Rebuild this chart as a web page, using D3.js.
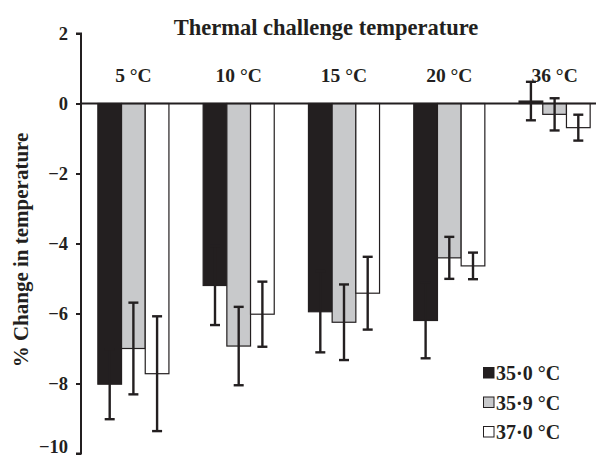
<!DOCTYPE html>
<html>
<head>
<meta charset="utf-8">
<script src="https://cdn.jsdelivr.net/npm/d3@7"></script>
<style>
  body { margin: 0; background: #fff; }
  text { font-family: "Liberation Serif", "DejaVu Serif", serif; font-weight: bold; fill: #231f20; }
</style>
</head>
<body>
<div id="chart"></div>
<script>
// data
var categories = ['5 °C', '10 °C', '15 °C', '20 °C', '36 °C'];
var seriesNames = ['35·0 °C', '35·9 °C', '37·0 °C'];
var seriesColors = ['#231f20', '#c8c9cb', '#ffffff'];
var means35_0 = [-8.02, -5.2, -5.95, -6.2, 0.07];
var means35_9 = [-7.0, -6.93, -6.25, -4.41, -0.31];
var means37_0 = [-7.72, -6.02, -5.42, -4.64, -0.69];
var err35_0 = [1.0, 1.13, 1.16, 1.08, 0.55];
var err35_9 = [1.31, 1.12, 1.08, 0.6, 0.46];
var err37_0 = [1.64, 0.93, 1.04, 0.38, 0.37];
var yTicks = [2, 0, -2, -4, -6, -8, -10];

var means = [means35_0, means35_9, means37_0];
var errs = [err35_0, err35_9, err37_0];

var W = 596, H = 458;
var svg = d3.select('#chart').append('svg')
    .attr('width', W).attr('height', H);

// scales
var y = d3.scaleLinear().domain([-10, 2]).range([453.5, 33.5]);
var x0 = d3.scaleBand().domain(categories).range([81, 607])
    .paddingInner(0.325).paddingOuter(0.16);
var x1 = d3.scaleBand().domain(d3.range(3)).range([0, x0.bandwidth()]);

// title
svg.append('text')
    .attr('x', 326).attr('y', 35)
    .attr('text-anchor', 'middle')
    .style('font-size', '22.5px')
    .text('Thermal challenge temperature');

// group labels
svg.selectAll('text.cat')
    .data(categories).enter().append('text')
    .attr('class', 'cat')
    .attr('x', function(d) { return x0(d) + x0.bandwidth() / 2; })
    .attr('y', 82)
    .attr('text-anchor', 'middle')
    .style('font-size', '19.5px')
    .text(function(d) { return d; });

// bars
var rows = [];
categories.forEach(function(c, i) {
  for (var s = 0; s < 3; s++) {
    rows.push({cat: c, s: s, v: means[s][i], e: errs[s][i]});
  }
});

svg.selectAll('rect.bar')
    .data(rows).enter().append('rect')
    .attr('class', 'bar')
    .attr('x', function(d) { return x0(d.cat) + x1(d.s); })
    .attr('width', x1.bandwidth())
    .attr('y', function(d) { return y(Math.max(0, d.v)); })
    .attr('height', function(d) { return Math.abs(y(d.v) - y(0)); })
    .attr('fill', function(d) { return seriesColors[d.s]; })
    .attr('stroke', '#231f20')
    .attr('stroke-width', 1.2);

// zero line
svg.append('line')
    .attr('x1', 81).attr('x2', W)
    .attr('y1', y(0)).attr('y2', y(0))
    .attr('stroke', '#231f20').attr('stroke-width', 2);

// error bars
var eb = svg.selectAll('g.err')
    .data(rows).enter().append('g')
    .attr('class', 'err')
    .attr('stroke', '#231f20')
    .attr('stroke-width', 2.4);

function cx(d) { return x0(d.cat) + x1(d.s) + x1.bandwidth() / 2; }

eb.append('line')
    .attr('x1', cx).attr('x2', cx)
    .attr('y1', function(d) { return y(d.v + d.e); })
    .attr('y2', function(d) { return y(d.v - d.e); });
eb.append('line')
    .attr('x1', function(d) { return cx(d) - 5; })
    .attr('x2', function(d) { return cx(d) + 5; })
    .attr('y1', function(d) { return y(d.v + d.e); })
    .attr('y2', function(d) { return y(d.v + d.e); });
eb.append('line')
    .attr('x1', function(d) { return cx(d) - 5; })
    .attr('x2', function(d) { return cx(d) + 5; })
    .attr('y1', function(d) { return y(d.v - d.e); })
    .attr('y2', function(d) { return y(d.v - d.e); });

// y axis
var yAxis = d3.axisLeft(y).tickValues(yTicks).tickSize(5).tickPadding(8)
    .tickFormat(function(d) { return d < 0 ? '\u2212' + Math.abs(d) : d; });
var ga = svg.append('g')
    .attr('transform', 'translate(81,0)')
    .call(yAxis);
ga.select('.domain').attr('stroke', '#231f20').attr('stroke-width', 2)
    .attr('d', 'M-5,' + y(2) + 'H0V' + y(-10) + 'H-5');
ga.selectAll('.tick line').attr('stroke', '#231f20').attr('stroke-width', 2);
ga.selectAll('.tick text')
    .style('font-size', '18.5px')
    .style('font-family', '"Liberation Serif", serif')
    .style('font-weight', 'bold')
    .attr('fill', '#231f20')
    .attr('dy', function(d) { return d === -10 ? '-0.05em' : '0.32em'; });

// y label
svg.append('text')
    .attr('transform', 'translate(28,250) rotate(-90)')
    .attr('text-anchor', 'middle')
    .style('font-size', '21px')
    .text('% Change in temperature');

// legend
var lg = svg.selectAll('g.legend')
    .data(seriesNames).enter().append('g')
    .attr('class', 'legend')
    .attr('transform', function(d, i) { return 'translate(483,' + (373 + i * 29.5) + ')'; });
lg.append('rect')
    .attr('x', 0.5).attr('y', -5.5)
    .attr('width', 10.5).attr('height', 10.5)
    .attr('fill', function(d, i) { return seriesColors[i]; })
    .attr('stroke', '#231f20').attr('stroke-width', 1);
lg.append('text')
    .attr('x', 13).attr('y', 7)
    .style('font-size', '20px')
    .text(function(d) { return d; });
</script>
</body>
</html>
